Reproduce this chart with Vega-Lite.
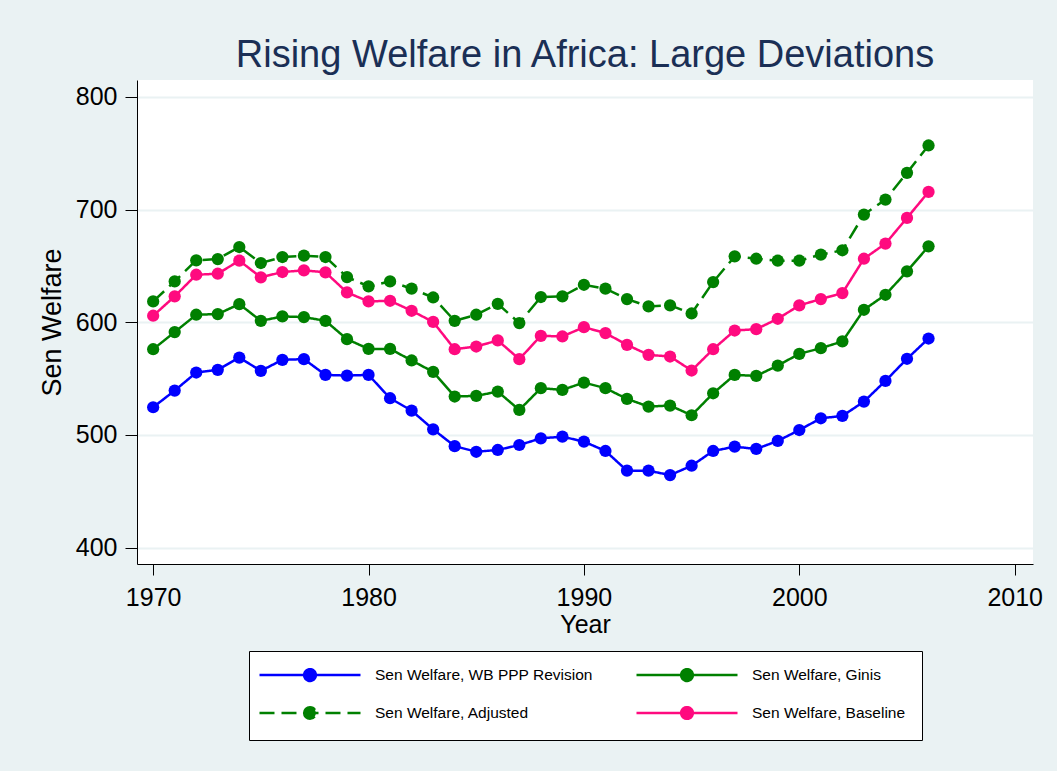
{
  "$schema": "https://vega.github.io/schema/vega-lite/v6.json",
  "autosize": {"type": "none"},
  "width": 896,
  "height": 484,
  "padding": {"left": 137, "top": 80, "right": 24, "bottom": 207},
  "background": "#EAF2F3",
  "title": {
    "text": "Rising Welfare in Africa: Large Deviations",
    "anchor": "middle",
    "frame": "group",
    "baseline": "alphabetic",
    "offset": -25,
    "font": "Liberation Sans",
    "fontSize": 38,
    "fontWeight": "normal",
    "color": "#1A2F55"
  },
  "config": {
    "view": {"stroke": null, "fill": "white"},
    "axis": {
      "labelFont": "Liberation Sans",
      "titleFont": "Liberation Sans",
      "labelFontSize": 25,
      "titleFontSize": 25,
      "labelColor": "black",
      "titleColor": "black",
      "titleFontWeight": "normal",
      "domainColor": "black",
      "tickColor": "black",
      "domainWidth": 1,
      "tickWidth": 1
    }
  },
  "data": {
    "values": [
      {"year": 1970, "wb": 524.6, "ginis": 576.1, "adj": 618.5, "base": 605.8},
      {"year": 1971, "wb": 539.4, "ginis": 591.3, "adj": 636.3, "base": 623.0},
      {"year": 1972, "wb": 555.4, "ginis": 606.7, "adj": 655.0, "base": 642.2},
      {"year": 1973, "wb": 557.8, "ginis": 607.3, "adj": 656.1, "base": 643.1},
      {"year": 1974, "wb": 568.7, "ginis": 616.1, "adj": 666.8, "base": 654.7},
      {"year": 1975, "wb": 556.9, "ginis": 601.3, "adj": 652.6, "base": 639.9},
      {"year": 1976, "wb": 566.7, "ginis": 605.2, "adj": 657.9, "base": 644.6},
      {"year": 1977, "wb": 567.3, "ginis": 604.6, "adj": 659.1, "base": 646.1},
      {"year": 1978, "wb": 553.3, "ginis": 601.3, "adj": 657.9, "base": 644.3},
      {"year": 1979, "wb": 552.7, "ginis": 585.0, "adj": 640.1, "base": 626.5},
      {"year": 1980, "wb": 553.3, "ginis": 576.4, "adj": 631.9, "base": 618.5},
      {"year": 1981, "wb": 532.6, "ginis": 576.4, "adj": 636.3, "base": 619.1},
      {"year": 1982, "wb": 521.6, "ginis": 566.1, "adj": 629.8, "base": 610.2},
      {"year": 1983, "wb": 505.0, "ginis": 556.0, "adj": 622.0, "base": 600.3},
      {"year": 1984, "wb": 490.1, "ginis": 534.1, "adj": 601.3, "base": 576.1},
      {"year": 1985, "wb": 485.1, "ginis": 534.7, "adj": 606.7, "base": 578.5},
      {"year": 1986, "wb": 486.7, "ginis": 538.5, "adj": 616.4, "base": 583.9},
      {"year": 1987, "wb": 491.1, "ginis": 522.2, "adj": 599.3, "base": 567.3},
      {"year": 1988, "wb": 497.0, "ginis": 541.5, "adj": 622.4, "base": 588.0},
      {"year": 1989, "wb": 498.5, "ginis": 540.0, "adj": 623.0, "base": 587.4},
      {"year": 1990, "wb": 494.1, "ginis": 546.5, "adj": 633.3, "base": 595.7},
      {"year": 1991, "wb": 485.8, "ginis": 541.5, "adj": 629.8, "base": 590.4},
      {"year": 1992, "wb": 468.3, "ginis": 532.0, "adj": 620.6, "base": 580.0},
      {"year": 1993, "wb": 468.3, "ginis": 525.2, "adj": 614.1, "base": 571.1},
      {"year": 1994, "wb": 464.4, "ginis": 526.1, "adj": 615.0, "base": 569.6},
      {"year": 1995, "wb": 472.7, "ginis": 517.5, "adj": 607.8, "base": 557.2},
      {"year": 1996, "wb": 485.8, "ginis": 537.0, "adj": 635.7, "base": 576.1},
      {"year": 1997, "wb": 489.6, "ginis": 553.3, "adj": 658.5, "base": 592.7},
      {"year": 1998, "wb": 487.6, "ginis": 552.4, "adj": 656.4, "base": 593.9},
      {"year": 1999, "wb": 494.7, "ginis": 561.6, "adj": 654.7, "base": 603.1},
      {"year": 2000, "wb": 504.4, "ginis": 572.0, "adj": 654.7, "base": 615.0},
      {"year": 2001, "wb": 514.8, "ginis": 577.0, "adj": 660.0, "base": 620.6},
      {"year": 2002, "wb": 516.9, "ginis": 583.0, "adj": 663.9, "base": 625.9},
      {"year": 2003, "wb": 529.6, "ginis": 611.1, "adj": 695.6, "base": 656.4},
      {"year": 2004, "wb": 548.0, "ginis": 624.4, "adj": 708.9, "base": 669.8},
      {"year": 2005, "wb": 567.6, "ginis": 645.2, "adj": 732.6, "base": 692.6},
      {"year": 2006, "wb": 585.6, "ginis": 667.4, "adj": 756.9, "base": 715.7}
    ]
  },
  "transform": [
    {"fold": ["wb", "ginis", "adj", "base"], "as": ["series", "value"]}
  ],
  "encoding": {
    "x": {
      "field": "year",
      "type": "quantitative",
      "scale": {"domain": [1969.25, 2010.85], "nice": false, "zero": false},
      "axis": {
        "title": "Year",
        "values": [1970, 1980, 1990, 2000, 2010],
        "format": "d",
        "grid": false,
        "tickSize": 11,
        "labelPadding": 10,
        "titlePadding": 2
      }
    },
    "y": {
      "field": "value",
      "type": "quantitative",
      "scale": {"domain": [385.5, 815], "nice": false, "zero": false},
      "axis": {
        "title": "Sen Welfare",
        "titleFontSize": 27,
        "values": [400, 500, 600, 700, 800],
        "grid": true,
        "gridColor": "#EAF2F3",
        "gridWidth": 2,
        "tickSize": 12,
        "labelPadding": 8,
        "titlePadding": 9
      }
    },
    "color": {
      "field": "series",
      "type": "nominal",
      "scale": {
        "domain": ["wb", "ginis", "adj", "base"],
        "range": ["#0000FF", "#008000", "#008000", "#FF0A7F"]
      },
      "legend": {
        "title": null,
        "orient": "none",
        "direction": "horizontal",
        "legendX": 112,
        "legendY": 571,
        "columns": 2,
        "columnPadding": 38,
        "rowPadding": 16,
        "padding": 16,
        "fillColor": "white",
        "strokeColor": "black",
        "labelFont": "Liberation Sans",
        "labelFontSize": 15.5,
        "labelColor": "black",
        "labelLimit": 0,
        "labelOffset": 57,
        "symbolOffset": 37,
        "symbolSize": 169,
        "symbolStrokeWidth": 2.5,
        "symbolType": "M-7.77,0H7.77M-0.9,0A0.9,0.9,0,1,1,0.9,0A0.9,0.9,0,1,1,-0.9,0Z",
        "labelExpr": "{'wb': 'Sen Welfare, WB PPP Revision', 'ginis': 'Sen Welfare, Ginis', 'adj': 'Sen Welfare, Adjusted', 'base': 'Sen Welfare, Baseline'}[datum.label]",
        "encode": {
          "symbols": {
            "update": {
              "fill": {"scale": "color", "field": "value"},
              "stroke": {"scale": "color", "field": "value"},
              "opacity": {"value": 1}
            }
          }
        }
      }
    }
  },
  "layer": [
    {
      "mark": {"type": "line", "strokeWidth": 2.5},
      "encoding": {
        "strokeDash": {
          "field": "series",
          "type": "nominal",
          "scale": {
            "domain": ["wb", "ginis", "adj", "base"],
            "range": [[1, 0], [1, 0], [15, 7], [1, 0]]
          },
          "legend": {"title": null}
        }
      }
    },
    {
      "mark": {"type": "point", "filled": true, "size": 150, "opacity": 1}
    }
  ]
}
